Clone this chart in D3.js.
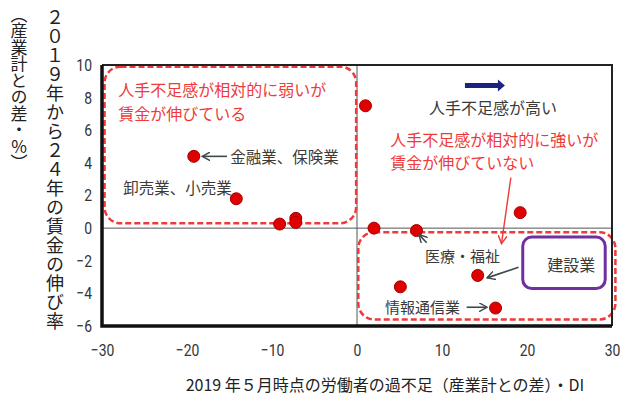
<!DOCTYPE html>
<html>
  <head>
    <meta charset="utf-8">
    <title></title>
  </head>
  <style>
  body{
      margin:0;
      padding:0;
      background-color:#fff;
      font-family: "Noto Sans CJK JP", sans-serif;
  }
  .tick text{
      font-family: "Liberation Sans Narrow", "Roboto", sans-serif;
      font-size: 17px;
      fill: #333;
  }
  </style>
  <script src="https://d3js.org/d3.v7.min.js"></script>
  <body>
    <script>
    // 軸の目盛
    const xTicks = [-30, -20, -10, 0, 10, 20, 30]
    const yTicks = [-6, -4, -2, 0, 2, 4, 6, 8, 10]

    // 各産業の点 (労働者過不足DI差, 賃金伸び率差)
    const pointX = [-19.2, -14.2, -9.1, -7.2, -7.2, 1.0, 19.2, 2.0, 7.0, 14.2, 5.1, 16.3]
    const pointY = [4.4, 1.8, 0.25, 0.6, 0.35, 7.5, 0.95, 0.0, -0.15, -2.9, -3.6, -4.9]

    const xTitle = "2019 年５月時点の労働者の過不足（産業計との差）・DI"
    const yTitle1 = "（産業計との差・%）"
    const yTitle2 = "２０１９年から２４年の賃金の伸び率"

    var width = 622, height = 396
    var svg = d3.select("body").append("svg")
                .attr("width", width)
                .attr("height", height)

    var x = d3.scaleLinear().domain([-30, 30]).range([102, 612])
    var y = d3.scaleLinear().domain([-6, 10]).range([326, 65])

    var red = "#ee3a3a", gray = "#3a3a3a"

    // markers
    var defs = svg.append("defs")
    function openHead(id, color){
      defs.append("marker")
          .attr("id", id)
          .attr("viewBox", "0 0 10 10")
          .attr("refX", 9).attr("refY", 5)
          .attr("markerWidth", 9).attr("markerHeight", 9)
          .attr("markerUnits", "userSpaceOnUse")
          .attr("orient", "auto")
          .append("path")
          .attr("d", "M0,0 L9,5 L0,10")
          .attr("fill", "none")
          .attr("stroke", color)
          .attr("stroke-width", 1.6)
    }
    openHead("headGray", "#3e4a4a")
    openHead("headRed", red)

    // 0 lines
    svg.append("line")
       .attr("x1", x(-30)).attr("x2", x(30))
       .attr("y1", y(0)).attr("y2", y(0))
       .attr("stroke", "#555").attr("stroke-width", 1)
    svg.append("line")
       .attr("x1", x(0)).attr("x2", x(0))
       .attr("y1", y(10)).attr("y2", y(-6))
       .attr("stroke", "#555").attr("stroke-width", 1)

    // 点線の枠
    svg.append("rect")
       .attr("x", x(-29.7)).attr("y", y(9.9))
       .attr("width", x(-0.1) - x(-29.7))
       .attr("height", y(0.3) - y(9.9))
       .attr("rx", 16).attr("ry", 16)
       .attr("fill", "none").attr("stroke", red)
       .attr("stroke-width", 2.5).attr("stroke-dasharray", "6,3")
    svg.append("rect")
       .attr("x", x(0.15)).attr("y", y(-0.25))
       .attr("width", x(30.4) - x(0.15))
       .attr("height", y(-5.6) - y(-0.25))
       .attr("rx", 16).attr("ry", 16)
       .attr("fill", "none").attr("stroke", red)
       .attr("stroke-width", 2.5).attr("stroke-dasharray", "6,3")

    // axes
    svg.append("g")
       .attr("transform", "translate(0," + (y(-6) + 4) + ")")
       .call(d3.axisBottom(x).tickValues(xTicks).tickSize(0).tickPadding(14))
       .call(g => g.select(".domain").remove())
       .selectAll(".tick text")
       .attr("transform", "scale(0.82,1)")
    svg.append("g")
       .attr("transform", "translate(" + (x(-30) - 10) + ",0)")
       .call(d3.axisLeft(y).tickValues(yTicks).tickSize(0).tickPadding(0))
       .call(g => g.select(".domain").remove())
       .selectAll(".tick text")
       .attr("transform", "scale(0.82,1)")

    // frame
    svg.append("path")
       .attr("d", `M${x(-30)},${y(10)} H${x(30)} V${y(-6)}`)
       .attr("fill", "none").attr("stroke", "#222").attr("stroke-width", 2)
    svg.append("path")
       .attr("d", `M${x(-30)},${y(10)} V${y(-6)} H${x(30)}`)
       .attr("fill", "none").attr("stroke", "#111").attr("stroke-width", 3.5)

    // points
    svg.append("g").selectAll("circle")
       .data(pointX)
       .enter()
       .append("circle")
       .attr("cx", d => x(d))
       .attr("cy", (d, i) => y(pointY[i]))
       .attr("r", 6)
       .attr("fill", "#e00000")
       .attr("stroke", "#a00000")
       .attr("stroke-width", 1)

    // texts
    function label(t, px, py, color, anchor, size){
      return svg.append("text")
         .attr("x", px).attr("y", py)
         .attr("dominant-baseline", "central")
         .attr("text-anchor", anchor || "start")
         .attr("font-size", (size || 15) + "px")
         .attr("fill", color)
         .text(t)
    }
    label("人手不足感が相対的に弱いが", x(-28.1), y(8.5), red, "start", 16)
    label("賃金が伸びている", x(-28.1), y(7.05), red, "start", 16)
    label("金融業、保険業", x(-14.9), y(4.4), gray, "start", 15.5)
    label("卸売業、小売業", x(-27.5), y(2.5), gray, "start", 15.5)
    label("人手不足感が高い", x(16), y(7.4), gray, "middle", 16)
    label("人手不足感が相対的に強いが", x(3.9), y(5.45), red, "start", 16)
    label("賃金が伸びていない", x(3.9), y(4.05), red, "start", 16)
    label("医療・福祉", x(8), y(-1.7), gray, "start", 15)
    label("情報通信業", x(3.3), y(-4.8), gray, "start", 15)
    label("建設業", x(25.2), y(-2.2), gray, "middle", 16)

    // annotation arrows
    svg.append("line")
       .attr("x1", x(-15.3)).attr("y1", y(4.4))
       .attr("x2", x(-18.2)).attr("y2", y(4.4))
       .attr("stroke", "#3e4a4a").attr("stroke-width", 1.6)
       .attr("marker-end", "url(#headGray)")
    svg.append("line")
       .attr("x1", x(8.2)).attr("y1", y(-0.9))
       .attr("x2", x(7.3)).attr("y2", y(-0.4))
       .attr("stroke", "#3e4a4a").attr("stroke-width", 1.6)
       .attr("marker-end", "url(#headGray)")
    svg.append("line")
       .attr("x1", x(12.9)).attr("y1", y(-4.85))
       .attr("x2", x(15.3)).attr("y2", y(-4.85))
       .attr("stroke", "#3e4a4a").attr("stroke-width", 1.6)
       .attr("marker-end", "url(#headGray)")
    svg.append("line")
       .attr("x1", x(19)).attr("y1", y(-2.4))
       .attr("x2", x(15.3)).attr("y2", y(-3.05))
       .attr("stroke", "#3e4a4a").attr("stroke-width", 1.6)
       .attr("marker-end", "url(#headGray)")
    svg.append("line")
       .attr("x1", x(18.1)).attr("y1", y(3.1))
       .attr("x2", x(17.0)).attr("y2", y(-0.95))
       .attr("stroke", red).attr("stroke-width", 1.4)
       .attr("marker-end", "url(#headRed)")

    // 紫の枠
    svg.append("rect")
       .attr("x", x(19.5)).attr("y", y(-0.55))
       .attr("width", x(29.2) - x(19.5))
       .attr("height", y(-3.7) - y(-0.55))
       .attr("rx", 9).attr("ry", 9)
       .attr("fill", "none").attr("stroke", "#7030a0").attr("stroke-width", 3)

    // 青い矢印
    var ax0 = x(12.7), ax1 = x(17.4), ay = y(8.75)
    svg.append("path")
       .attr("d", `M${ax0},${ay - 2.5} H${ax1 - 7} V${ay - 6} L${ax1},${ay} L${ax1 - 7},${ay + 6} V${ay + 2.5} H${ax0} Z`)
       .attr("fill", "#1a2480")

    // axis titles
    svg.append("text")
       .attr("x", 385).attr("y", 384)
       .attr("text-anchor", "middle")
       .attr("dominant-baseline", "central")
       .attr("font-size", "16px")
       .attr("fill", "#222")
       .text(xTitle)
    svg.append("text")
       .attr("x", 19).attr("y", 6)
       .style("writing-mode", "vertical-rl")
       .style("text-orientation", "upright")
       .attr("font-size", "17px")
       .attr("letter-spacing", "-0.5px")
       .attr("fill", "#222")
       .text(yTitle1)
    svg.append("text")
       .attr("x", 55).attr("y", 8)
       .style("writing-mode", "vertical-rl")
       .attr("font-size", "18px")
       .attr("letter-spacing", "1px")
       .attr("fill", "#222")
       .text(yTitle2)
    </script>
  </body>
</html>
